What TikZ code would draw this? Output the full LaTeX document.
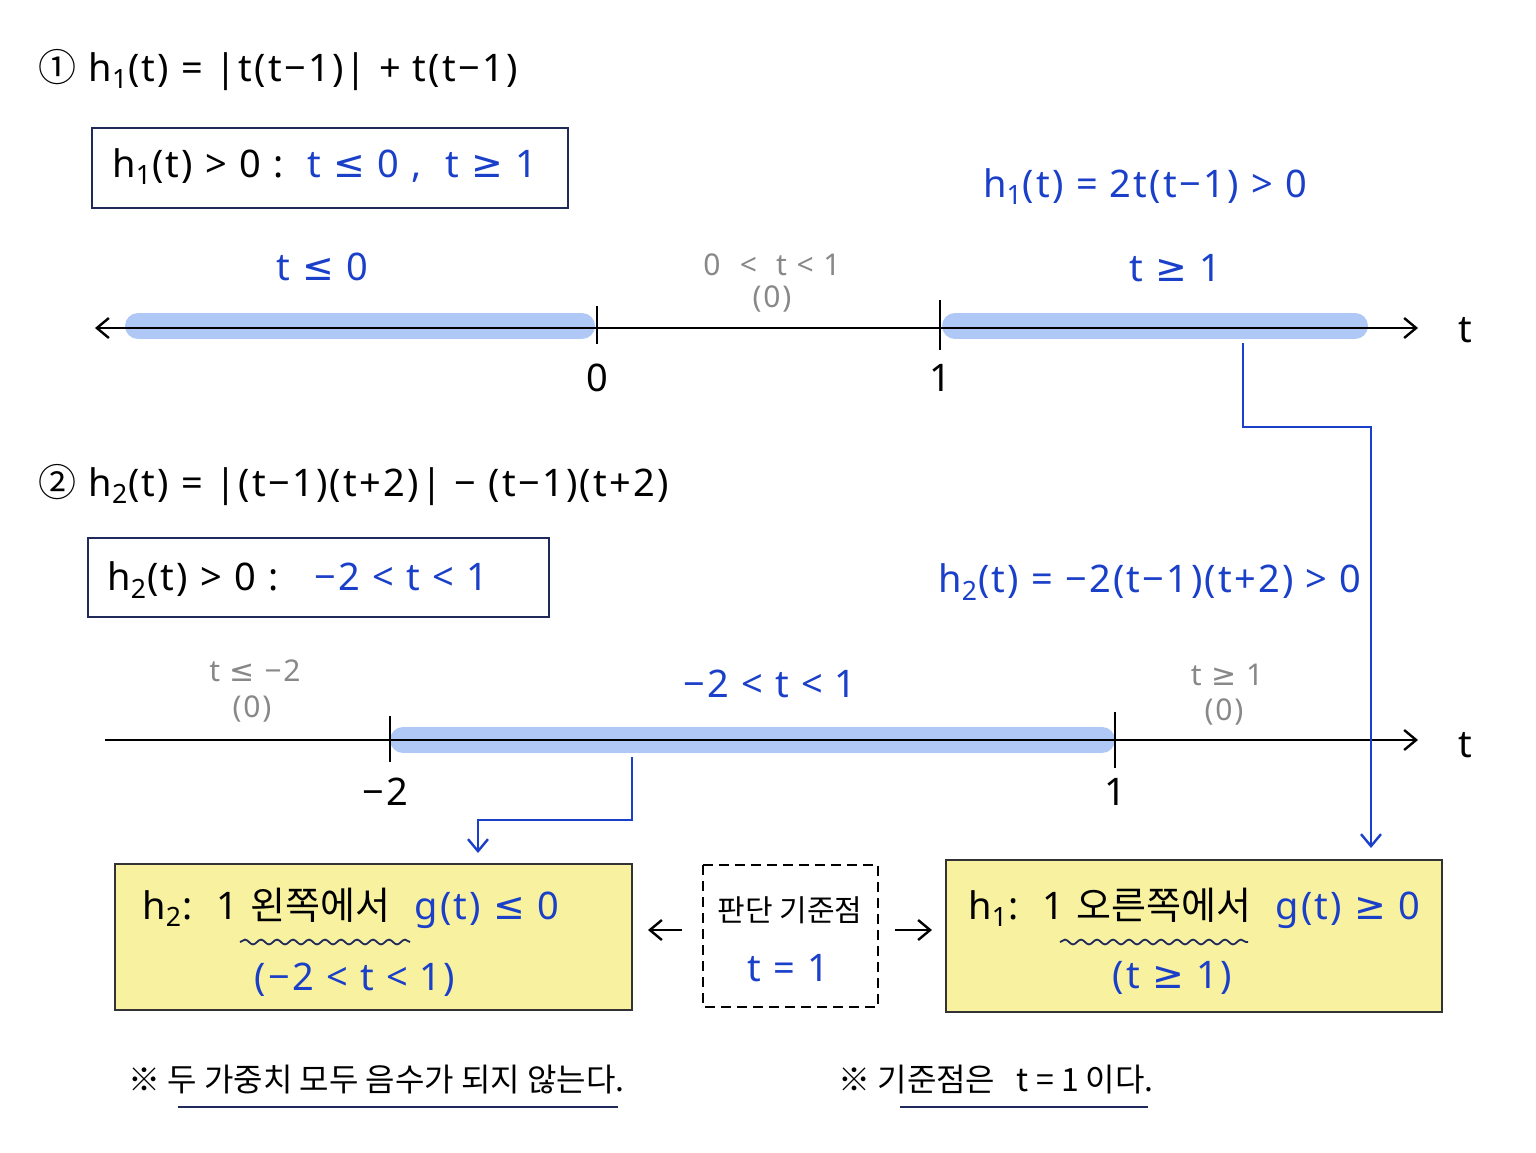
\documentclass[tikz,border=0pt]{standalone}
\usepackage{fontspec}
\setmainfont{Noto Sans}[LetterSpace=6]
\newfontfamily\kr{Noto Sans CJK KR}
\newfontfamily\dv{DejaVu Sans}
\newcommand{\LE}{{\dv ≤}}
\newcommand{\GE}{{\dv ≥}}
\usetikzlibrary{decorations.pathmorphing,arrows.meta}
\definecolor{bl}{HTML}{1A3FC8}
\definecolor{nv}{HTML}{1F2A5A}
\definecolor{hl}{HTML}{AFC8F5}
\definecolor{yl}{HTML}{F8F1A0}
\definecolor{gr}{HTML}{888888}
\begin{document}
\begin{tikzpicture}[x=0.5pt,y=-0.5pt,
  txt/.style={font=\fontsize{17}{20}\selectfont,inner sep=0},
  big/.style={font=\fontsize{19}{22}\selectfont,inner sep=0},
  sm/.style={font=\fontsize{15}{18}\selectfont,inner sep=0,text=gr},
  btxt/.style={big,text=bl},
  axis/.style={line width=1.2pt},
  bar/.style={hl,line width=13pt,line cap=round},
  tick/.style={line width=1.2pt},
  conn/.style={bl,line width=1.2pt},
  nbox/.style={draw=nv,line width=1.3pt},
  ybox/.style={draw=black!80,fill=yl,line width=1.3pt},
  wav/.style={nv,line width=0.9pt,decorate,decoration={snake,amplitude=1.2pt,segment length=8pt}},
  ul/.style={nv,line width=1.2pt},
  >={Straight Barb[length=6pt,width=10pt]}]
\useasboundingbox (0,0) rectangle (1536,1152);
% section 1
\node[big,anchor=west] (f1) at (38,70) {{\kr ①} h\textsubscript{1}(t) = |t(t−1)| + t(t−1)};
\draw[nbox] (92,128) rectangle (568,208);
\node[big,anchor=west] (b1) at (112,167) {h\textsubscript{1}(t) > 0 :\ \ \textcolor{bl}{t \LE\ 0 ,\ \ t \GE\ 1}};
\node[btxt] (e1) at (1145,187) {h\textsubscript{1}(t) = 2t(t−1) > 0};
\draw[bar] (138,326) -- (582,326);
\draw[bar] (955,326) -- (1355,326);
\coordinate (l1a) at (95,328); \coordinate (l1b) at (1418,328);
\draw[axis,<->] (l1a) -- (l1b);
\draw[tick] (597,306) -- (597,344); \draw[tick] (940,300) -- (940,350);
\node[big] (z1) at (597,378) {0};
\node[big] (o1) at (940,378) {1};
\node[big] (t1) at (1465,330) {t};
\node[btxt] (a1) at (322,267) {t \LE\ 0};
\node[sm] (m1) at (772,265) {0 \ <\ \ t < 1};
\node[sm] (m1z) at (772,299) {(0)};
\node[btxt] (c1) at (1175,268) {t \GE\ 1};
% section 2
\node[big,anchor=west] (f2) at (38,485) {{\kr ②} h\textsubscript{2}(t) = |(t−1)(t+2)| − (t−1)(t+2)};
\draw[nbox] (88,538) rectangle (549,617);
\node[big,anchor=west] (b2) at (107,580) {h\textsubscript{2}(t) > 0 :\ \ \ \textcolor{bl}{−2 < t < 1}};
\node[btxt] (e2) at (1150,582) {h\textsubscript{2}(t) = −2(t−1)(t+2) > 0};
\draw[bar] (403,740) -- (1102,740);
\coordinate (l2a) at (105,740); \coordinate (l2b) at (1418,740);
\draw[axis,->] (l2a) -- (l2b);
\draw[tick] (390,716) -- (390,762); \draw[tick] (1115,712) -- (1115,768);
\node[big] (m2l) at (385,792) {−2};
\node[big] (o2) at (1115,792) {1};
\node[big] (t2) at (1465,745) {t};
\node[sm] (a2) at (255,671) {t \LE\ −2};
\node[sm] (a2z) at (252,709) {(0)};
\node[btxt] (c2) at (770,684) {−2 < t < 1};
\node[sm] (d2) at (1227,675) {t \GE\ 1};
\node[sm] (d2z) at (1224,712) {(0)};
% bottom boxes
\draw[ybox] (115,864) rectangle (632,1010);
\node[big,anchor=west] (y1) at (142,908) {h\textsubscript{2}:\ \ 1 {\kr 왼쪽에서}\ \ \textcolor{bl}{g(t) \LE\ 0}};
\draw[wav] (240,942) -- (410,942);
\node[btxt] (y1b) at (355,980) {(−2 < t < 1)};
\draw[dashed,line width=1.2pt,dash pattern=on 5pt off 3pt] (703,865) rectangle (878,1007);
\node[txt,font=\kr\fontsize{15}{18}\selectfont] (p1) at (790,910) {판단 기준점};
\node[btxt] (p2) at (788,968) {t = 1};
\coordinate (la) at (682,930); \coordinate (lb) at (648,930);
\coordinate (ra) at (895,930); \coordinate (rb) at (932,930);
\draw[line width=1.2pt,->] (la) -- (lb);
\draw[line width=1.2pt,->] (ra) -- (rb);
\draw[ybox] (946,860) rectangle (1442,1012);
\node[big,anchor=west] (y2) at (968,908) {h\textsubscript{1}:\ \ 1 {\kr 오른쪽에서}\ \ \textcolor{bl}{g(t) \GE\ 0}};
\draw[wav] (1060,942) -- (1248,942);
\node[btxt] (y2b) at (1172,978) {(t \GE\ 1)};
% connectors
\coordinate (s1) at (1243,343); \coordinate (e1c) at (1371,848);
\draw[conn,->] (s1) -- (1243,427) -- (1371,427) -- (e1c);
\coordinate (s2) at (632,757); \coordinate (e2c) at (478,853);
\draw[conn,->] (s2) -- (632,820) -- (478,820) -- (e2c);
% notes
\node[txt,anchor=west,font=\kr\fontsize{16}{18}\selectfont] (n1) at (128,1080) {※ 두 가중치 모두 음수가 되지 않는다.};
\draw[ul] (178,1107) -- (618,1107);
\node[txt,anchor=west,font=\kr\fontsize{16}{18}\selectfont] (n2) at (838,1080) {※ 기준점은\ \ \ t = 1 이다.};
\draw[ul] (900,1107) -- (1148,1107);
\end{tikzpicture}
\end{document}
